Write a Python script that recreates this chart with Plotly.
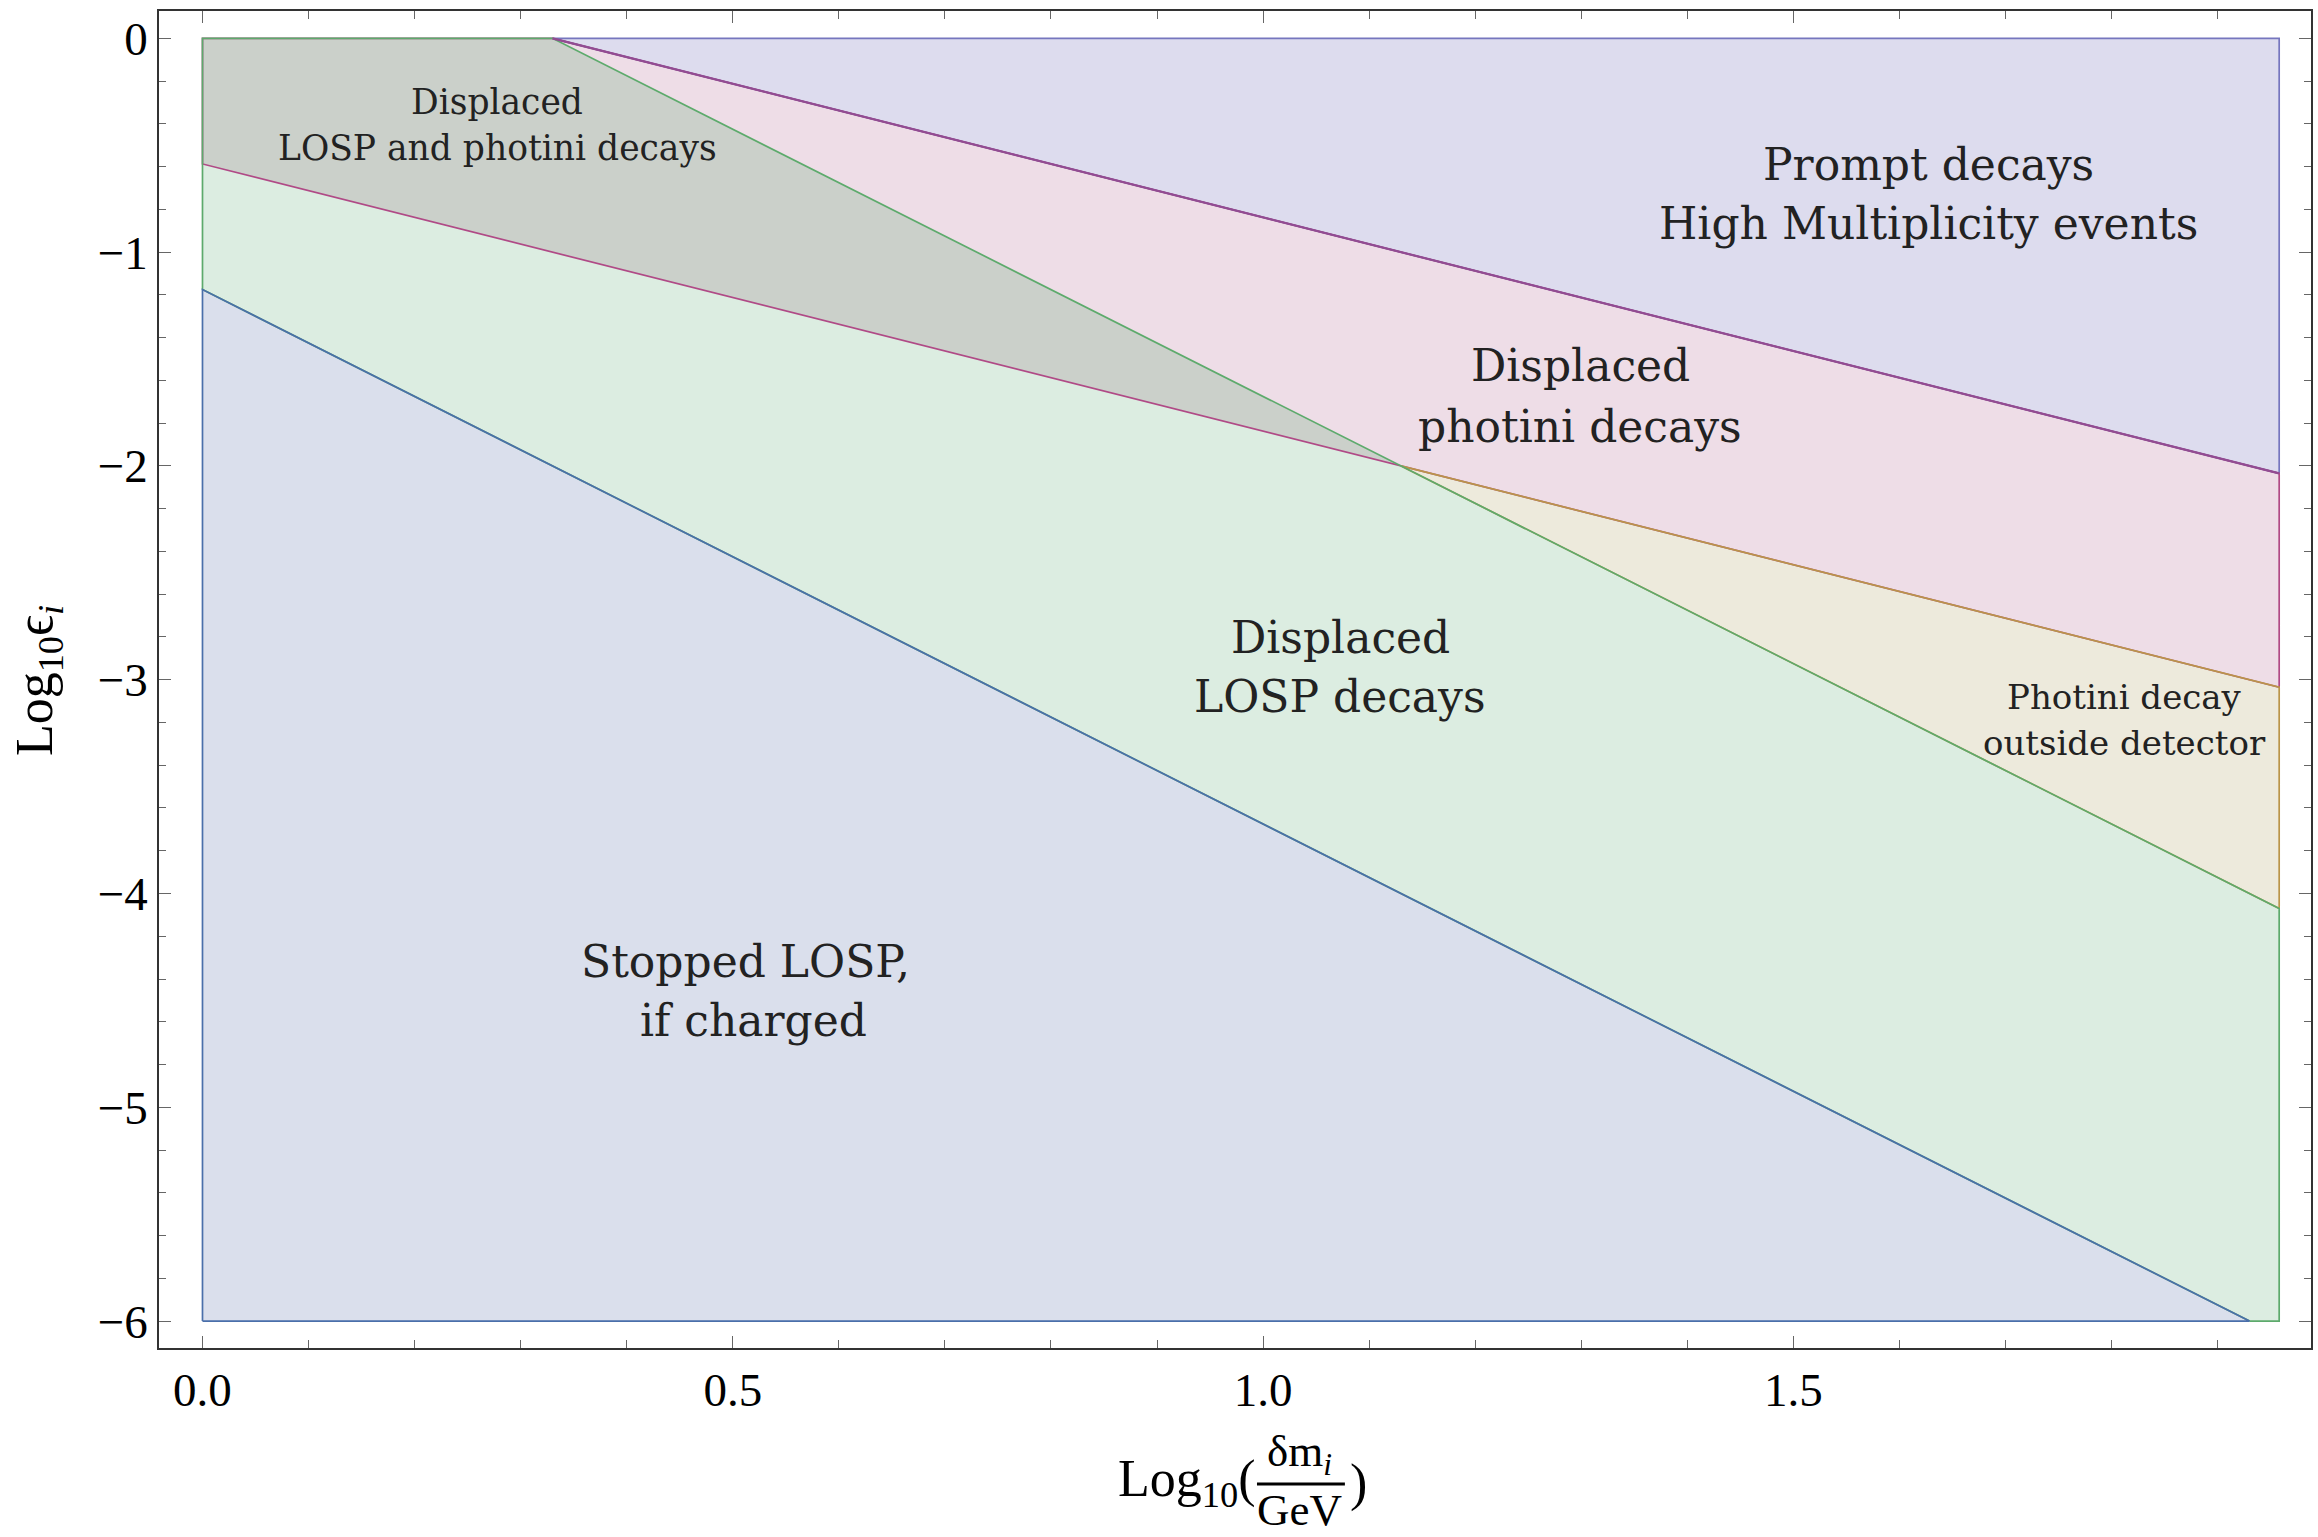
import plotly.graph_objects as go

# ---------------- data ----------------
x_bounds = [0.0, 1.958]          # Log10(dm/GeV) extent of the regions
y_bounds = [-6.0, 0.0]           # Log10(eps) extent of the regions

# boundary lines, given as two end points each
stopped_x = [0.0, 1.93]          # stopped LOSP / displaced LOSP (blue)
stopped_y = [-1.175, -6.0]
losp_x = [0.33, 1.958]           # displaced LOSP upper edge (green)
losp_y = [0.0, -4.07]
photini_x = [0.0, 1.958]         # photini decay inside detector (magenta)
photini_y = [-0.5875, -3.035]
prompt_x = [0.33, 1.958]         # prompt decays (purple)
prompt_y = [0.0, -2.035]

x_tick_vals = [0.0, 0.5, 1.0, 1.5]
y_tick_vals = [0, -1, -2, -3, -4, -5, -6]

label_lines = [
    ("Displaced", 0.278, -0.298, 34.5),
    ("LOSP and photini decays", 0.278, -0.513, 34.5),
    ("Prompt decays", 1.627, -0.588, 44),
    ("High Multiplicity events", 1.627, -0.864, 44),
    ("Displaced", 1.299, -1.529, 44),
    ("photini decays", 1.299, -1.815, 44),
    ("Displaced", 1.0725, -2.802, 44),
    ("LOSP decays", 1.0725, -3.079, 44),
    ("Photini decay", 1.812, -3.079, 34),
    ("outside detector", 1.812, -3.294, 34),
    ("Stopped LOSP,", 0.512, -4.319, 44),
    ("if charged", 0.5196, -4.596, 44),
]

# ---------------- geometry helpers ----------------
def line_params(xs, ys):
    m = (ys[1] - ys[0]) / (xs[1] - xs[0])
    q = ys[0] - m * xs[0]
    return m, q

def above(xs, ys):
    m, q = line_params(xs, ys)
    return (-m, 1.0, -q)

def below(xs, ys):
    m, q = line_params(xs, ys)
    return (m, -1.0, q)

def clip(poly, hp):
    a, b, c = hp
    out = []
    n = len(poly)
    for i in range(n):
        p = poly[i]
        r = poly[(i + 1) % n]
        fp = a * p[0] + b * p[1] + c
        fr = a * r[0] + b * r[1] + c
        if fp >= 0:
            out.append(p)
        if (fp >= 0) != (fr >= 0):
            t = fp / (fp - fr)
            out.append((p[0] + t * (r[0] - p[0]), p[1] + t * (r[1] - p[1])))
    return out

def region(*hps):
    poly = [(x_bounds[0], y_bounds[0]), (x_bounds[1], y_bounds[0]),
            (x_bounds[1], y_bounds[1]), (x_bounds[0], y_bounds[1])]
    for hp in hps:
        poly = clip(poly, hp)
    xs = [p[0] for p in poly] + [poly[0][0]]
    ys = [p[1] for p in poly] + [poly[0][1]]
    return xs, ys

regions = {
    "stopped": (region(below(stopped_x, stopped_y)), "#DADFEC", "#4A6FAA"),
    "losp": (region(above(stopped_x, stopped_y), below(losp_x, losp_y)), "#DCEDE1", "#5DAA6C"),
    "photini": (region(above(photini_x, photini_y), below(prompt_x, prompt_y)), "#EEDDE7", "#B04A86"),
    "outside": (region(below(photini_x, photini_y), above(losp_x, losp_y)), "#EDEADC", "#BA9549"),
    "prompt": (region(above(prompt_x, prompt_y)), "#DDDCEE", "#7676BE"),
    "both": (region(above(photini_x, photini_y), below(prompt_x, prompt_y),
                    above(stopped_x, stopped_y), below(losp_x, losp_y)), "#CBD0CA", None),
}

fig = go.Figure()

for key in ["stopped", "losp", "photini", "outside", "prompt", "both"]:
    (xs, ys), fc, _ = regions[key]
    fig.add_trace(go.Scatter(x=xs, y=ys, fill="toself", fillcolor=fc, mode="none",
                             hoverinfo="skip", showlegend=False))

for key in ["prompt", "photini", "outside", "losp", "stopped"]:
    (xs, ys), _, lc = regions[key]
    fig.add_trace(go.Scatter(x=xs, y=ys, mode="lines", line=dict(color=lc, width=1.7),
                             hoverinfo="skip", showlegend=False))

fig.add_trace(go.Scatter(x=prompt_x, y=prompt_y, mode="lines",
                         line=dict(color="#924C92", width=2.2), hoverinfo="skip", showlegend=False))

for txt, x, y, size in label_lines:
    fig.add_annotation(x=x, y=y, xref="x", yref="y", text=txt, showarrow=False,
                       xanchor="center", yanchor="middle",
                       font=dict(family="DejaVu Serif", size=size, color="#222222"))

W, H = 2318, 1537
L, R, T, B = 159, 5, 11, 189
pw, ph = W - L - R, H - T - B

def px(xp):
    return (xp - L) / pw

def py(yp):
    return (H - B - yp) / ph

tick_font = dict(family="Liberation Serif", size=47, color="#000000")
title_font = dict(family="Liberation Serif", size=52, color="#000000")
frac_font = dict(family="Liberation Serif", size=45, color="#000000")

# x-axis title built as a stacked fraction
fig.add_annotation(x=px(1257), y=py(1483), xref="paper", yref="paper",
                   text="Log<sub>10</sub>(", showarrow=False, xanchor="right",
                   yanchor="middle", font=title_font, borderpad=0)
fig.add_annotation(x=px(1301), y=py(1536), xref="paper", yref="paper",
                   text="δm<sub><i>i</i></sub><br>GeV", showarrow=False, xanchor="center",
                   yanchor="bottom", align="center", font=frac_font, borderpad=0)
fig.add_annotation(x=px(1350), y=py(1483), xref="paper", yref="paper",
                   text=")", showarrow=False, xanchor="left",
                   yanchor="middle", font=title_font, borderpad=0)
fig.add_shape(type="line", xref="paper", yref="paper",
              x0=px(1258), x1=px(1346), y0=py(1484), y1=py(1484),
              line=dict(color="#000000", width=3))

fig.add_annotation(x=px(38), y=py(681), xref="paper", yref="paper",
                   text="Log<sub>10</sub>ϵ<sub><i>i</i></sub>", showarrow=False,
                   textangle=-90, xanchor="center", yanchor="middle", font=title_font)

common = dict(showgrid=False, zeroline=False, showline=True, mirror="ticks",
              linecolor="#333333", linewidth=1.5, ticks="inside", ticklen=12,
              tickwidth=1.3, tickcolor="#666666", tickfont=tick_font)

fig.update_xaxes(range=[-0.041, 1.988], tickvals=x_tick_vals,
                 ticktext=[f"{v:.1f}" for v in x_tick_vals],
                 minor=dict(dtick=0.1, tick0=0, ticks="inside", ticklen=8,
                            tickwidth=1.1, tickcolor="#666666"),
                 ticklabelstandoff=0, **common)
fig.update_yaxes(range=[-6.126, 0.128], tickvals=y_tick_vals,
                 ticktext=[str(v).replace("-", "\u2212") for v in y_tick_vals],
                 minor=dict(dtick=0.2, tick0=0, ticks="inside", ticklen=7,
                            tickwidth=1.1, tickcolor="#666666"),
                 ticklabelstandoff=0, **common)

fig.update_layout(width=W, height=H, margin=dict(l=L, r=R, t=T, b=B),
                  plot_bgcolor="white", paper_bgcolor="white", showlegend=False)

fig.write_html("out.html")
